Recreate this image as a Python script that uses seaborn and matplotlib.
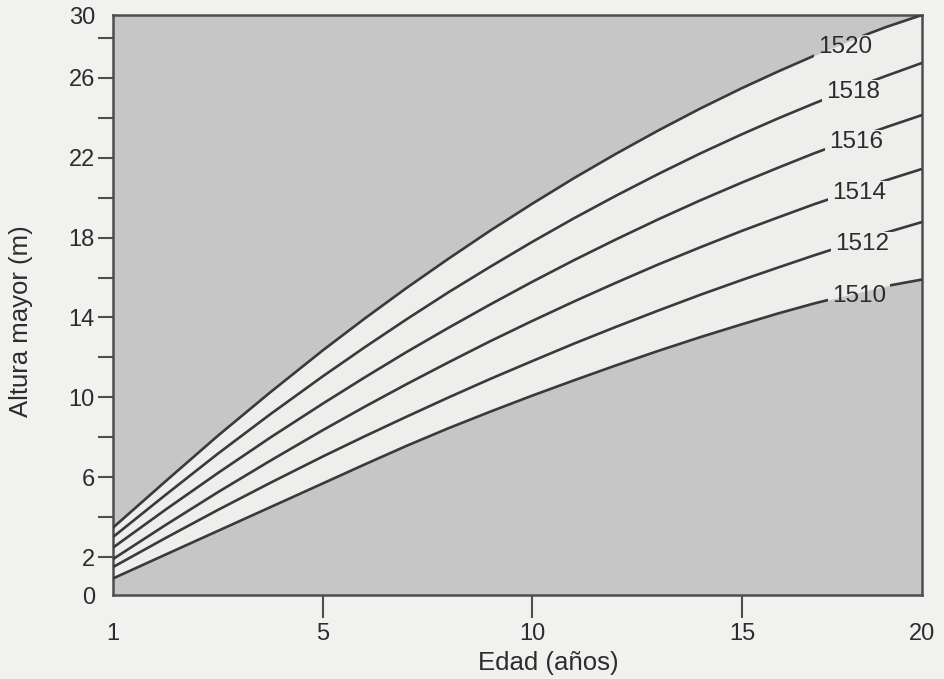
import numpy as np
import pandas as pd
import matplotlib
matplotlib.use("Agg")
import matplotlib.pyplot as plt
import seaborn as sns
from matplotlib.path import Path
from matplotlib.transforms import IdentityTransform

# ---------------- data ----------------
AGES = [1, 2, 3, 4, 5, 6, 7, 8, 9, 10, 11, 12, 13, 14, 15, 16, 17, 18, 19, 20]
SITE_INDEX = ["1520", "1518", "1516", "1514", "1512", "1510"]
H1520 = [3.47, 5.79, 8.08, 10.26, 12.36, 13.95, 15.48, 16.94, 18.35, 19.69,
         20.98, 22.20, 23.36, 24.46, 25.49, 26.32, 27.11, 27.86, 28.95, 30.0]
H1518 = [3.00, 5.11, 7.18, 9.16, 11.06, 12.51, 13.91, 15.26, 16.54, 17.78,
         18.97, 20.10, 21.18, 22.21, 23.18, 23.97, 24.72, 25.43, 26.10, 26.75]
H1516 = [2.47, 4.37, 6.21, 7.99, 9.69, 11.00, 12.27, 13.48, 14.65, 15.78,
         16.87, 17.91, 18.91, 19.86, 20.76, 21.50, 22.22, 22.89, 23.53, 24.14]
H1514 = [1.89, 3.60, 5.25, 6.83, 8.36, 9.53, 10.66, 11.75, 12.81, 13.82,
         14.80, 15.74, 16.65, 17.51, 18.34, 19.01, 19.67, 20.28, 20.87, 21.44]
H1512 = [1.47, 2.95, 4.36, 5.72, 7.04, 8.05, 9.03, 9.99, 10.92, 11.81,
         12.69, 13.53, 14.34, 15.13, 15.88, 16.50, 17.11, 17.69, 18.25, 18.78]
H1510 = [0.87, 2.12, 3.31, 4.50, 5.69, 6.64, 7.57, 8.45, 9.28, 10.08,
         10.85, 11.60, 12.32, 13.01, 13.66, 14.20, 14.70, 15.15, 15.57, 15.90]
CURVES = [H1520, H1518, H1516, H1514, H1512, H1510]

X_TICKS = [1, 5, 10, 15, 20]
Y_LABELED = [0, 2, 6, 10, 14, 18, 22, 26, 30]
Y_MINOR = [4, 8, 12, 16, 20, 24, 28]

# ---------------- irregular axis geometry of the original ----------------
X_KNOT_VAL = [1, 5, 10, 15, 20]
X_KNOT_POS = [0, 210, 419, 629, 809]
Y_KNOT_VAL = [0, 2, 28, 30]
Y_KNOT_POS = [0, 38, 557, 580]
LABEL_AGE = [17.86, 18.08, 18.17, 18.25, 18.33, 18.25]

# ---------------- style ----------------
PAGE = "#f1f1ef"
GRAY = "#c6c6c6"
BAND = "#eeeeed"
LINE = "#3a3a3a"
SPINE = "#4e4e4e"
TEXT = "#2c2c2c"


def pw(v, xs, ys):
    v = np.asarray(v, dtype=float)
    out = np.interp(v, xs, ys)
    lo_s = (ys[1] - ys[0]) / (xs[1] - xs[0])
    hi_s = (ys[-1] - ys[-2]) / (xs[-1] - xs[-2])
    out = np.where(v < xs[0], ys[0] + (v - xs[0]) * lo_s, out)
    out = np.where(v > xs[-1], ys[-1] + (v - xs[-1]) * hi_s, out)
    return out


sns.set_theme(style="ticks")
plt.rcParams["font.family"] = ["Liberation Sans", "DejaVu Sans"]

fig = plt.figure(figsize=(9.45, 6.79), dpi=100, facecolor=PAGE)
ax = fig.add_axes([113 / 945, 84 / 679, 809 / 945, 580 / 679])
ax.set_facecolor(GRAY)

ax.fill_between(AGES, H1510, H1520, color=BAND, lw=0, zorder=1)

lines = []
for name, vals in zip(SITE_INDEX, CURVES):
    df = pd.DataFrame({"Edad": AGES, "Altura": vals})
    sns.lineplot(data=df, x="Edad", y="Altura", color=LINE, linewidth=1.9,
                 estimator=None, sort=False, ax=ax, zorder=3)
    lines.append(ax.lines[-1])

ax.set_xscale("function", functions=(lambda v: pw(v, X_KNOT_VAL, X_KNOT_POS),
                                     lambda p: pw(p, X_KNOT_POS, X_KNOT_VAL)))
ax.set_yscale("function", functions=(lambda v: pw(v, Y_KNOT_VAL, Y_KNOT_POS),
                                     lambda p: pw(p, Y_KNOT_POS, Y_KNOT_VAL)))
ax.set_xlim(1, 20)
ax.set_ylim(0, 30)

texts = []
for name, vals, la in zip(SITE_INDEX, CURVES, LABEL_AGE):
    yv = float(np.interp(la, AGES, vals)) - 0.2
    t = ax.text(la, yv, name, ha="center", va="center", fontsize=17.5,
                color=TEXT, zorder=5)
    texts.append(t)

# ticks
ax.set_xticks(X_TICKS)
ax.set_xticklabels([str(v) for v in X_TICKS])
ax.set_yticks(Y_LABELED)
ax.set_yticklabels([str(v) for v in Y_LABELED])
ax.set_yticks(Y_MINOR, minor=True)
ax.tick_params(axis="x", which="major", direction="out", length=16.5, width=1.5,
               pad=3.4, labelsize=17, color=SPINE, labelcolor=TEXT)
ax.tick_params(axis="y", which="both", direction="out", length=10.8, width=1.5,
               pad=2.2, labelsize=17, color=SPINE, labelcolor=TEXT)
ax.tick_params(axis="x", which="minor", bottom=False)
xt = ax.xaxis.get_major_ticks()
xt[0].tick1line.set_visible(False)
xt[-1].tick1line.set_visible(False)
yt = ax.yaxis.get_major_ticks()
yt[0].tick1line.set_visible(False)
yt[-1].tick1line.set_visible(False)

for s in ax.spines.values():
    s.set_visible(True)
    s.set_color(SPINE)
    s.set_linewidth(1.8)

ax.set_xlabel("Edad (años)", fontsize=18.5, color=TEXT)
ax.xaxis.set_label_coords(0.538, -0.0966)
ax.set_ylabel("Altura mayor (m)", fontsize=18.5, color=TEXT)
ax.yaxis.set_label_coords(-0.099, 0.472)

# break each curve where its label sits
fig.canvas.draw()
renderer = fig.canvas.get_renderer()
W, H = fig.bbox.width, fig.bbox.height
codes = [Path.MOVETO, Path.LINETO, Path.LINETO, Path.LINETO, Path.CLOSEPOLY]
for ln, t in zip(lines, texts):
    bb = t.get_window_extent(renderer)
    x0, y0, x1, y1 = bb.x0 - 4, bb.y0 - 1, bb.x1 + 4, bb.y1 + 1
    outer = [(0, 0), (W, 0), (W, H), (0, H), (0, 0)]
    inner = [(x0, y0), (x0, y1), (x1, y1), (x1, y0), (x0, y0)]
    ln.set_clip_path(Path(outer + inner, codes + codes), IdentityTransform())

fig.savefig("out.png", dpi=100, facecolor=PAGE)
